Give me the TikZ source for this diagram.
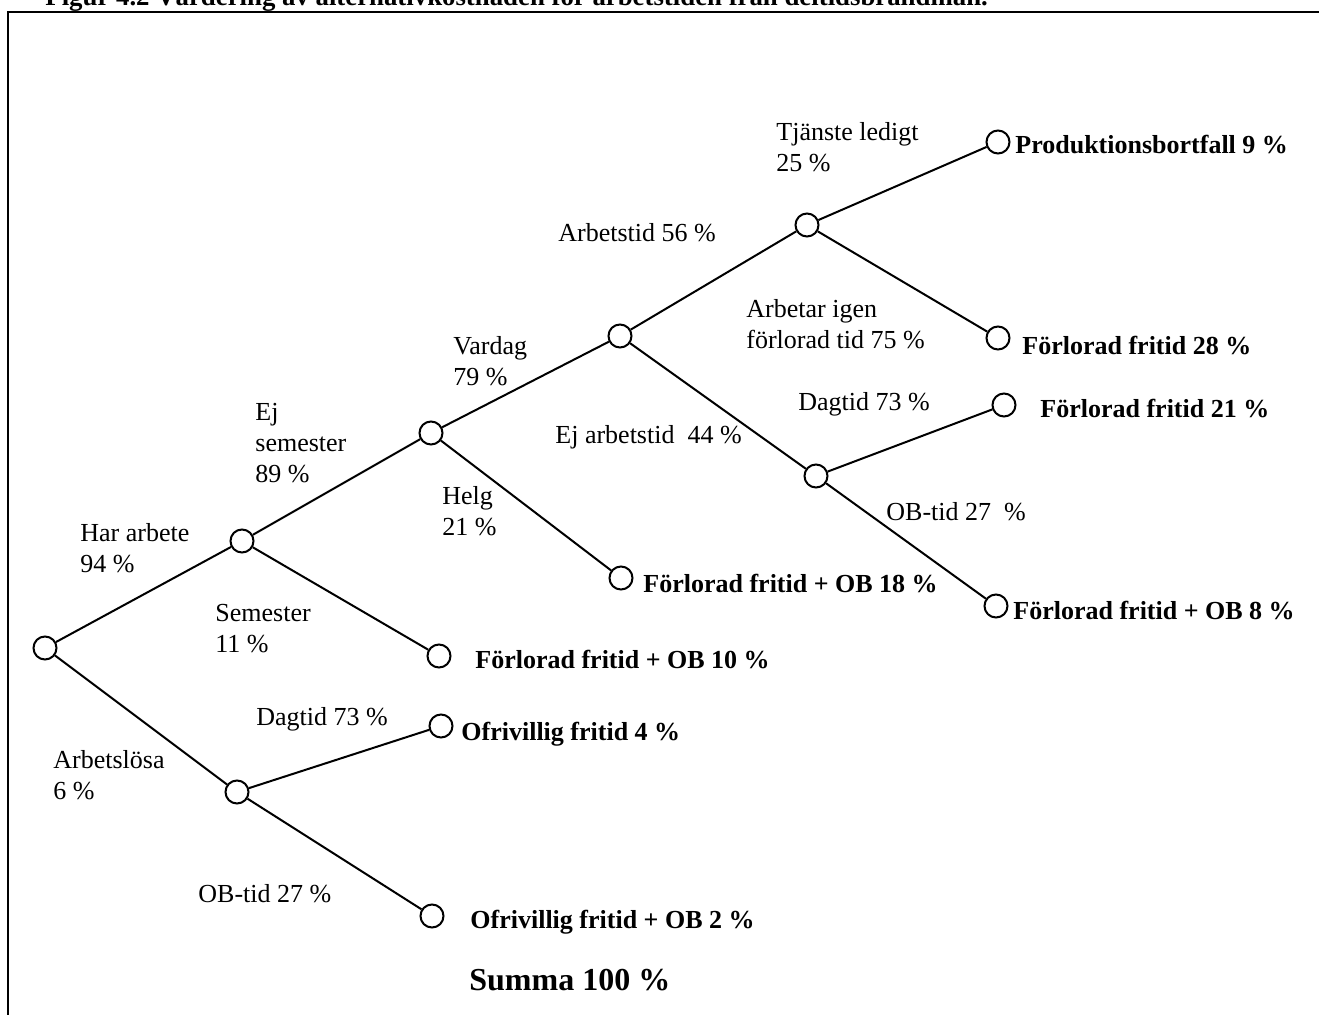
\documentclass[tikz,border=0pt]{standalone}
\usepackage{fontspec}
\setmainfont{Liberation Serif}
\usepackage{tikz}
\usetikzlibrary{positioning}

\begin{document}
\begin{tikzpicture}[
    x=0.5pt, y=-0.5pt,
    knot/.style={circle, draw, line width=1pt, minimum size=11.5pt, inner sep=0pt},
    lbl/.style={anchor=north west, align=left, inner sep=0pt, font=\fontsize{13}{15.5}\selectfont},
    leaf/.style={anchor=west, inner sep=0pt, font=\fontsize{13}{15.5}\selectfont\bfseries},
    edge/.style={line width=1pt}
]
\useasboundingbox (0,0) rectangle (1319,1015);

% frame and caption
\draw[line width=1.1pt] (8,1040) -- (8,12) -- (1340,12);
\node[anchor=base west, inner sep=0pt, font=\fontsize{13.4}{16}\selectfont\bfseries] (caption) at (45,6) {Figur 4.2 Värdering av alternativkostnaden för arbetstiden från deltidsbrandman.};

% branch points
\node[knot] (root)  at (45,648)  {};
\node[knot] (work)  at (242,541) {};
\node[knot] (nosem) at (431,433) {};
\node[knot] (wday)  at (620,336) {};
\node[knot] (off)   at (807,225) {};
\node[knot] (notw)  at (816,476) {};
\node[knot] (unemp) at (237,792) {};

% end points
\node[knot] (eProd)  at (998,142)  {};
\node[knot] (eLost)  at (998,338)  {};
\node[knot] (eDay)   at (1004,405) {};
\node[knot] (eOBa)   at (996,606)  {};
\node[knot] (eHelg)  at (621,578)  {};
\node[knot] (eSem)   at (439,656)  {};
\node[knot] (eInv)   at (441,726)  {};
\node[knot] (eInvOB) at (432,916)  {};

\foreach \a/\b in {root/work, root/unemp, work/nosem, work/eSem, nosem/wday, nosem/eHelg,
                   wday/off, wday/notw, off/eProd, off/eLost, notw/eDay, notw/eOBa,
                   unemp/eInv, unemp/eInvOB}
    \draw[edge] (\a) -- (\b);

% branch labels
\node[lbl] (lWork)  at (80,523)  {Har arbete\\94 \%};
\node[lbl] (lNoSem) at (255,403) {Ej\\semester\\89 \%};
\node[lbl] (lWday)  at (453,336) {Vardag\\79 \%};
\node[lbl] (lArb)   at (558,223) {Arbetstid 56 \%};
\node[lbl] (lOff)   at (776,122) {Tjänste ledigt\\25 \%};
\node[lbl] (lAgain) at (746,299) {Arbetar igen\\förlorad tid 75 \%};
\node[lbl] (lDay)   at (798,392) {Dagtid 73 \%};
\node[lbl] (lNotW)  at (555,425) {Ej arbetstid\ \ 44 \%};
\node[lbl] (lHelg)  at (442,486) {Helg\\21 \%};
\node[lbl] (lOBa)   at (886,502) {OB-tid 27\ \ \%};
\node[lbl] (lSem)   at (215,604) {Semester\\11 \%};
\node[lbl] (lDayU)  at (256,707) {Dagtid 73 \%};
\node[lbl] (lUnemp) at (53,750)  {Arbetslösa\\6 \%};
\node[lbl] (lOBu)   at (198,884) {OB-tid 27 \%};

% outcomes
\node[leaf] (tProd)  at (1015,145) {Produktionsbortfall 9 \%};
\node[leaf] (tLost)  at (1022,346) {Förlorad fritid 28 \%};
\node[leaf] (tDay)   at (1040,409) {Förlorad fritid 21 \%};
\node[leaf] (tOBa)   at (1013,611) {Förlorad fritid + OB 8 \%};
\node[leaf] (tHelg)  at (643,584)  {Förlorad fritid + OB 18 \%};
\node[leaf] (tSem)   at (475,660)  {Förlorad fritid + OB 10 \%};
\node[leaf] (tInv)   at (461,734)  {Ofrivillig fritid 4 \%};
\node[leaf] (tInvOB) at (470,922)  {Ofrivillig fritid + OB 2 \%};

\node[anchor=west, inner sep=0pt, font=\fontsize{16}{19}\selectfont\bfseries] (sum) at (469,980) {Summa 100 \%};

\end{tikzpicture}
\end{document}
